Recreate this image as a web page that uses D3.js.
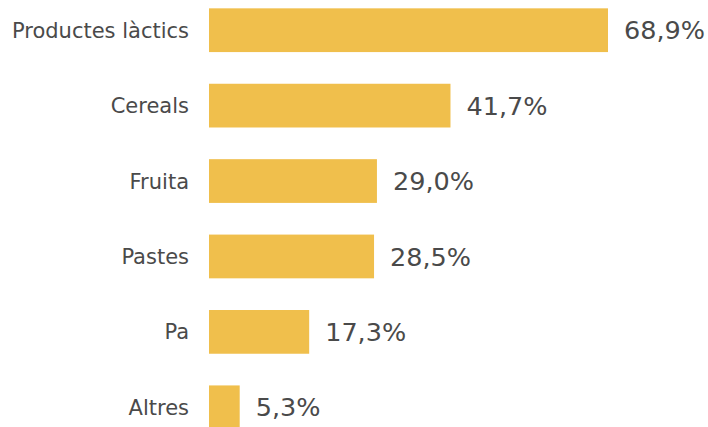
<!DOCTYPE html>
<html>
<head>
<meta charset="utf-8">
<script src="https://cdn.jsdelivr.net/npm/d3@7"></script>
<style>
  body { margin: 0; background: #fff; }
  text { font-family: "DejaVu Sans", Verdana, sans-serif; fill: #4a4a4a; }
</style>
</head>
<body>
<svg width="708" height="427"></svg>
<script>
// data
var categories = ['Productes làctics', 'Cereals', 'Fruita', 'Pastes', 'Pa', 'Altres']
var values = [68.9, 41.7, 29.0, 28.5, 17.3, 5.3]

var svg = d3.select('svg')

var x = d3.scaleLinear()
  .domain([0, 68.9])
  .range([209, 608])

var y = d3.scaleBand()
  .domain(categories)
  .range([-7.5, 445])
  .paddingInner(0.42)
  .paddingOuter(0.21)

var fmt = (v) => v.toFixed(1).replace('.', ',') + '%'

var rows = svg.selectAll('g.row')
  .data(categories)
  .enter()
  .append('g')
  .attr('class', 'row')

rows.append('rect')
  .attr('x', x(0))
  .attr('y', (d) => y(d))
  .attr('width', (d, i) => x(values[i]) - x(0))
  .attr('height', y.bandwidth())
  .style('fill', '#f0bf4c')

// category labels
rows.append('text')
  .attr('x', x(0) - 20)
  .attr('y', (d) => y(d) + y.bandwidth() / 2)
  .attr('dy', '0.36em')
  .attr('text-anchor', 'end')
  .style('font-size', '21px')
  .text((d) => d)

// value labels
rows.append('text')
  .attr('x', (d, i) => x(values[i]) + 16)
  .attr('y', (d) => y(d) + y.bandwidth() / 2)
  .attr('dy', '0.36em')
  .style('font-size', '25.5px')
  .text((d, i) => fmt(values[i]))
</script>
</body>
</html>
